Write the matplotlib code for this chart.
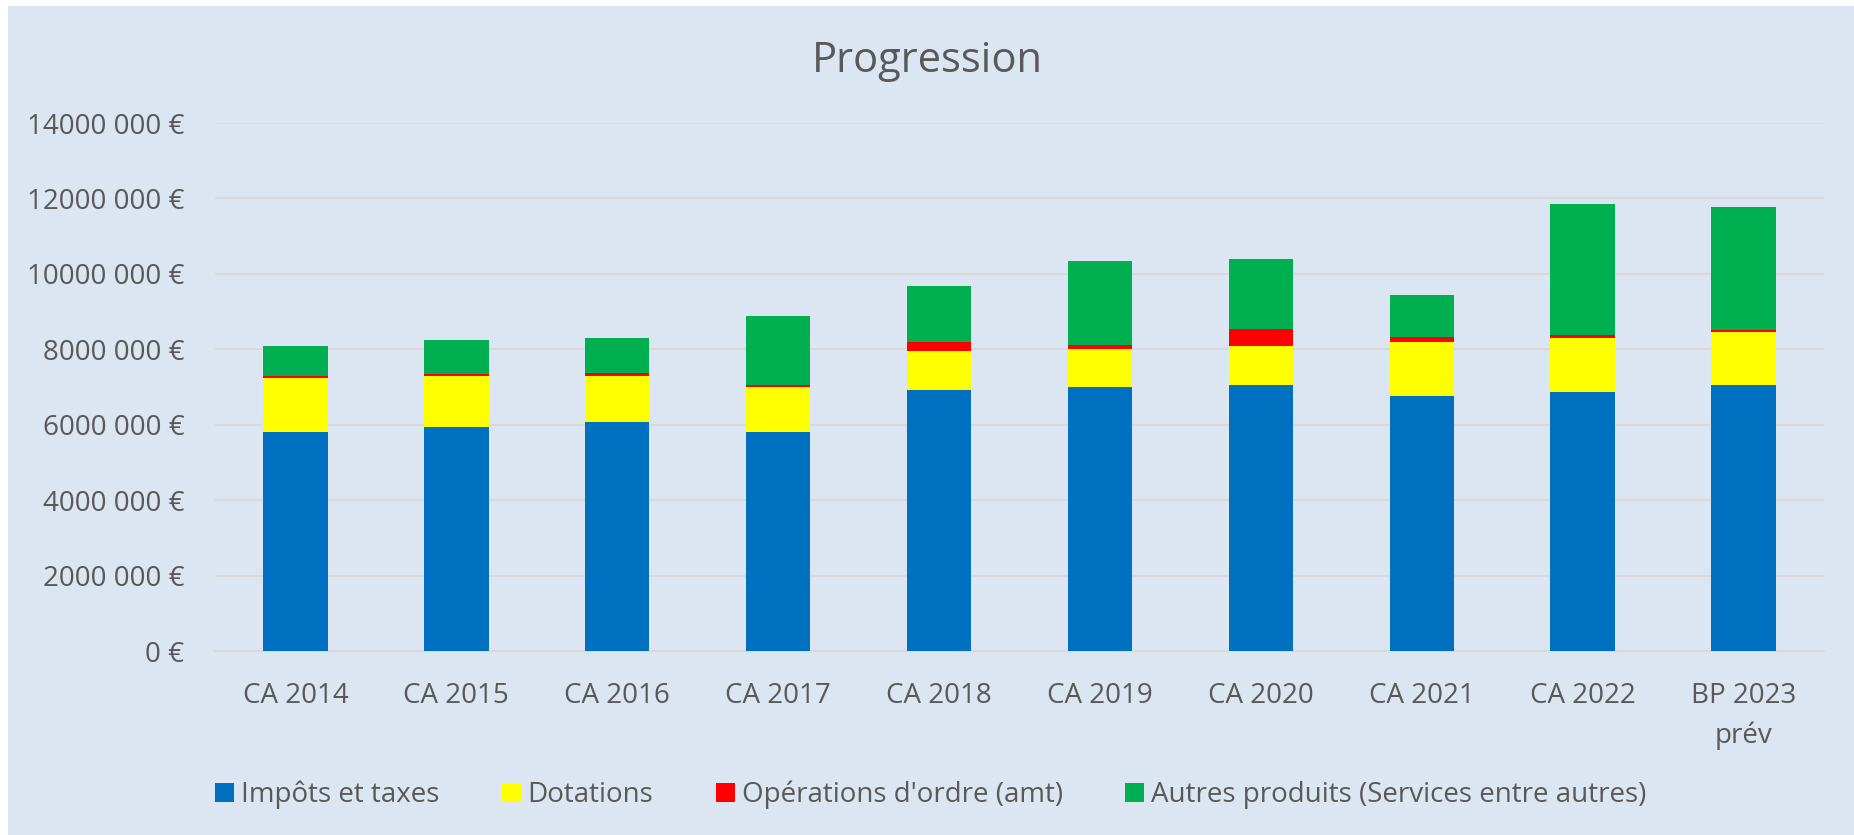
# -*- coding: utf-8 -*-
import matplotlib
matplotlib.use("Agg")
import matplotlib.pyplot as plt
from matplotlib.patches import Rectangle
import numpy as np

categories = ["CA 2014", "CA 2015", "CA 2016", "CA 2017", "CA 2018",
              "CA 2019", "CA 2020", "CA 2021", "CA 2022", "BP 2023\nprév"]
impots    = [5810000, 5930000, 6070000, 5820000, 6930000, 7010000, 7050000, 6760000, 6860000, 7040000]
dotations = [1430000, 1370000, 1230000, 1185000, 1030000, 990000, 1040000, 1430000, 1430000, 1410000]
ordre     = [40000, 40000, 60000, 55000, 230000, 110000, 440000, 140000, 80000, 70000]
autres    = [805000, 900000, 950000, 1830000, 1480000, 2220000, 1870000, 1120000, 3470000, 3250000]

series = [("Impôts et taxes", impots, "#0070C0"),
          ("Dotations", dotations, "#FFFF00"),
          ("Opérations d'ordre (amt)", ordre, "#FF0000"),
          ("Autres produits (Services entre autres)", autres, "#00B050")]

bg = "#DCE6F2"
txt = "#595959"
plt.rcParams['font.family'] = ['Open Sans', 'DejaVu Sans']

fig = plt.figure(figsize=(18.54, 8.35), dpi=100)
fig.patch.set_facecolor("white")
# chart area (small white margin top / left as in the reference)
fig.patches.append(Rectangle((8/1854, 0), 1 - 8/1854, 1 - 6/835, transform=fig.transFigure,
                             facecolor=bg, edgecolor="none", zorder=-10))

ax = fig.add_axes([215/1854, 1 - 651/835, (1824 - 215)/1854, (651 - 123)/835])
ax.set_facecolor(bg)
ax.patch.set_alpha(0)

x = np.arange(len(categories))
bottom = np.zeros(len(categories))
for name, vals, col in series:
    ax.bar(x, vals, width=0.40, bottom=bottom, color=col, label=name, zorder=3)
    bottom += np.array(vals)

ax.set_xlim(-0.5, len(categories) - 0.5)
ax.set_ylim(0, 14000000)
yt = np.arange(0, 14000001, 2000000)
ax.set_yticks(yt)

def fmt(v):
    v = int(v)
    if v == 0:
        return "0 €"
    return "%d %03d €" % (v // 1000, v % 1000)

ax.set_yticklabels([fmt(v) for v in yt])
ax.set_xticks(x)
ax.set_xticklabels(categories, linespacing=1.55)

ax.grid(axis="y", color="#D9D9D9", linewidth=1.5, zorder=0)
for s in ["top", "right", "left"]:
    ax.spines[s].set_visible(False)
ax.spines["bottom"].set_color("#D9D9D9")
ax.spines["bottom"].set_linewidth(1.5)
ax.tick_params(axis="both", length=0, labelsize=20, colors=txt)
ax.tick_params(axis="y", pad=22)
ax.tick_params(axis="x", pad=22)

fig.text(0.5, 1 - 61/835, "Progression", ha="center", va="center", fontsize=30, color=txt)

leg = fig.legend(loc="center", bbox_to_anchor=(0.502, 1 - 795/835), ncol=4, frameon=False,
                 fontsize=20, handlelength=0.68, handleheight=0.68, handletextpad=0.25,
                 columnspacing=2.25, labelcolor=txt)

fig.savefig("out.png", dpi=100, facecolor=fig.get_facecolor())
